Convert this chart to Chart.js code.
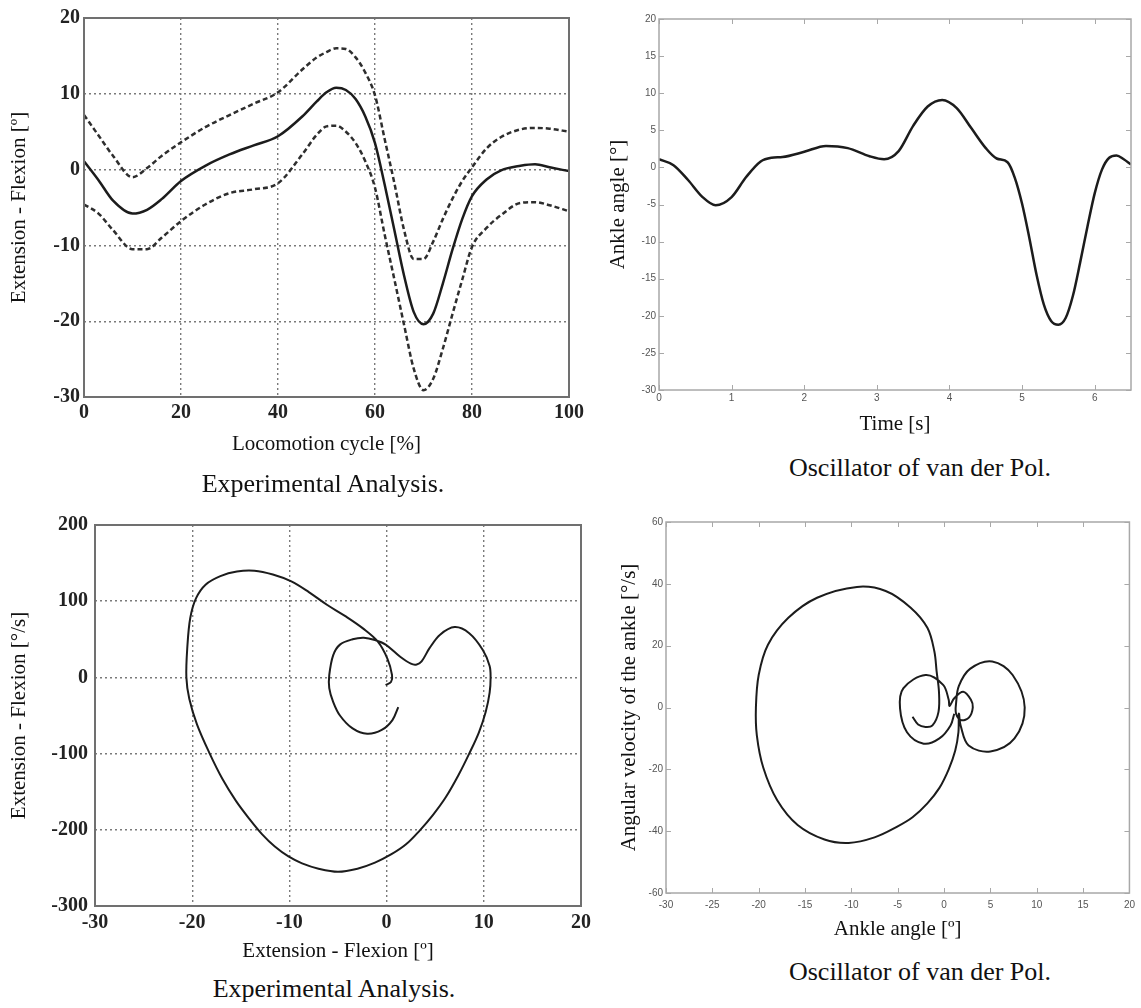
<!DOCTYPE html>
<html>
<head>
<meta charset="utf-8">
<script src="https://cdn.jsdelivr.net/npm/chart.js@4.4.1/dist/chart.umd.min.js"></script>
<style>
body { margin: 0; background: #fff; }
#page { position: relative; width: 1141px; height: 1008px; overflow: hidden; background: #fff; }
canvas { position: absolute; }
.cap { position: absolute; font-family: "Liberation Serif", "Times New Roman", serif; font-size: 26px; line-height: 1; color: #111; white-space: nowrap; transform: translate(-50%, -50%); }
</style>
</head>
<body>
<div id="page">
  <canvas id="c1" width="590" height="457" style="left:0px;top:0px"></canvas>
  <canvas id="c2" width="561" height="437" style="left:580px;top:0px"></canvas>
  <canvas id="c3" width="600" height="474" style="left:0px;top:490px"></canvas>
  <canvas id="c4" width="561" height="452" style="left:580px;top:490px"></canvas>
  <div class="cap" style="left:323px;top:484px">Experimental Analysis.</div>
  <div class="cap" style="left:920px;top:468px">Oscillator of van der Pol.</div>
  <div class="cap" style="left:334px;top:989px">Experimental Analysis.</div>
  <div class="cap" style="left:920px;top:972px">Oscillator of van der Pol.</div>
</div>
<script>
// top left: knee angle over the locomotion cycle (mean and band)
const cycle = [0, 3, 6, 10, 13, 16, 20, 25, 30, 35, 40, 45, 48, 50, 52, 54, 56, 58, 60, 62, 64, 66, 68, 70, 72, 74, 76, 78, 80, 83, 86, 90, 93, 96, 100];
const meanAngle = [1.1, -1.4, -4.1, -5.8, -5.3, -3.9, -1.5, 0.5, 2.0, 3.2, 4.4, 7.0, 9.0, 10.2, 10.8, 10.5, 9.3, 7.0, 3.5, -2.0, -8.0, -14.0, -18.8, -20.4, -19.0, -15.0, -10.5, -6.5, -3.5, -1.3, -0.1, 0.5, 0.7, 0.3, -0.2];
const upperAngle = [7.2, 4.5, 1.8, -1.0, 0.2, 1.8, 3.6, 5.6, 7.2, 8.7, 10.2, 13.2, 14.8, 15.5, 16.0, 15.9, 14.8, 12.8, 9.8, 4.0, -1.8, -8.0, -11.8, -11.8, -9.5, -6.5, -3.8, -1.5, 0.3, 2.8, 4.3, 5.3, 5.5, 5.4, 5.0];
const lowerAngle = [-4.6, -5.8, -8.0, -10.5, -10.5, -9.0, -6.8, -4.6, -3.1, -2.6, -1.8, 2.0, 4.6, 5.7, 5.8, 5.0, 3.5, 1.1, -2.4, -8.6, -14.5, -20.5, -26.3, -29.1, -27.6, -23.6, -19.0, -14.5, -10.2, -7.7, -6.0, -4.4, -4.3, -4.7, -5.5];

// top right: van der Pol ankle angle over time
const time = [0, 0.2, 0.4, 0.6, 0.78, 1.0, 1.2, 1.4, 1.55, 1.7, 2.0, 2.3, 2.6, 2.9, 3.1, 3.3, 3.5, 3.7, 3.9, 4.1, 4.3, 4.5, 4.65, 4.8, 4.9, 5.0, 5.1, 5.2, 5.3, 5.4, 5.5, 5.6, 5.7, 5.8, 5.9, 6.0, 6.1, 6.2, 6.3, 6.4, 6.5];
const ankleAngle = [1.1, 0.3, -1.7, -4.0, -5.1, -4.0, -1.3, 0.8, 1.3, 1.4, 2.1, 2.9, 2.6, 1.5, 1.1, 2.2, 5.6, 8.2, 9.1, 8.0, 5.3, 2.6, 1.2, 0.7, -1.4, -4.9, -9.5, -14.5, -18.5, -20.7, -21.2, -20.3, -17.3, -12.8, -8.0, -3.5, -0.3, 1.3, 1.6, 1.1, 0.4];

// bottom left: experimental phase plane
const expAngle = [1.2, 0.6, -0.5, -2.0, -3.5, -4.8, -5.5, -5.9, -5.9, -5.5, -4.8, -3.5, -2.35, -1.2, -0.1, 1.4, 2.5, 3.1, 3.6, 4.4, 5.5, 7.0, 8.5, 9.9, 10.6, 10.7, 10.6, 10.2, 9.5, 8.5, 7.4, 6.1, 4.8, 3.4, 2.0, 0.5, -1.2, -3.0, -5.0, -7.0, -8.7, -10.1, -11.5, -12.8, -14.1, -15.5, -16.9, -18.2, -19.5, -20.3, -20.6, -20.5, -20.2, -19.6, -18.6, -17.1, -15.4, -13.6, -11.7, -9.8, -8.0, -6.1, -4.2, -2.4, -0.9, 0.07, 0.56, 0.45, -0.1];
const expVelocity = [-39, -56, -69, -74, -67, -50, -32, -14, 3, 29, 43, 50, 52, 49, 43, 27, 18, 17, 21, 38, 56, 66, 58, 36, 15, 0, -20, -45, -72, -100, -128, -157, -180, -201, -219, -232, -243, -251, -255, -251, -244, -235, -222, -206, -186, -162, -133, -100, -62, -28, 0, 40, 78, 104, 122, 133, 139, 140, 135, 126, 112, 95, 80, 64, 47, 25, 3, -6, -10];

// bottom right: van der Pol phase plane
const vdpAngle = [1.1, 0.7, -0.5, -2.2, -4.0, -4.75, -4.4, -2.0, -0.1, 0.5, 0.6, 1.1, 2.07, 2.9, 3.1, 2.7, 1.87, 1.3, 1.3, 1.6, 2.8, 5.2, 7.4, 8.7, 7.6, 5.0, 2.65, 1.8, 1.6, 1.55, 1.2, 0.5, -0.5, -1.8, -3.4, -5.1, -7.5, -10.3, -12.9, -15.8, -18.0, -19.5, -20.2, -20.3, -20.0, -19.0, -16.8, -13.7, -9.4, -6.3, -3.6, -1.8, -1.05, -0.8, -0.55, -0.6, -1.25, -2.0, -2.8, -3.4];
const vdpVelocity = [-2.0, -5.8, -10.0, -11.7, -8.0, -0.3, 6.2, 10.5, 7.3, 2.5, 0.5, 3.0, 5.1, 2.5, 0, -3.2, -4.1, -2.0, 1.5, 7.0, 12.5, 14.9, 10.5, 0, -10, -14.2, -12.3, -6, -2, -8, -14, -20, -26, -31, -35.5, -38.6, -42, -43.8, -42.7, -38, -30, -19.5, -9, 0, 10.5, 20.3, 29, 35.5, 39, 37.7, 32.3, 25.8, 18.2, 11.6, 5.1, -1.4, -5.8, -6.3, -5.5, -3.0];

function pts(xs, ys) {
    return xs.map((x, i) => ({ x: x, y: ys[i] }));
}

// box round the plot area, with optional inward ticks (matlab style)
const frame = {
    id: 'frame',
    afterDatasetsDraw(chart, args, opts) {
        const a = chart.chartArea;
        const ctx = chart.ctx;
        ctx.save();
        ctx.strokeStyle = opts.color;
        ctx.lineWidth = opts.width;
        ctx.strokeRect(a.left, a.top, a.right - a.left, a.bottom - a.top);
        if (opts.tickLen) {
            const len = opts.tickLen;
            ctx.lineWidth = 1;
            ctx.beginPath();
            chart.scales.x.ticks.forEach(t => {
                const px = Math.round(chart.scales.x.getPixelForValue(t.value)) + 0.5;
                ctx.moveTo(px, a.bottom); ctx.lineTo(px, a.bottom - len);
                ctx.moveTo(px, a.top); ctx.lineTo(px, a.top + len);
            });
            chart.scales.y.ticks.forEach(t => {
                const py = Math.round(chart.scales.y.getPixelForValue(t.value)) + 0.5;
                ctx.moveTo(a.left, py); ctx.lineTo(a.left + len, py);
                ctx.moveTo(a.right, py); ctx.lineTo(a.right - len, py);
            });
            ctx.stroke();
        }
        ctx.restore();
    }
};

const serif = '"Liberation Serif", "Times New Roman", serif';
const sans = '"Liberation Sans", Arial, sans-serif';
const boldTicks = { family: serif, size: 20, weight: 'bold' };
const smallTicks = { family: sans, size: 10 };
const titleFont = { family: serif, size: 21 };

function line(points, opts) {
    return Object.assign({
        data: points,
        borderColor: '#1c1c1c',
        borderWidth: 2,
        pointRadius: 0,
        fill: false
    }, opts);
}

function baseOptions(padding, frameOpts) {
    return {
        responsive: false,
        animation: false,
        devicePixelRatio: 1,
        layout: { padding: padding },
        plugins: {
            legend: { display: false },
            tooltip: { enabled: false },
            frame: frameOpts
        }
    };
}

// dotted grid axis (experimental plots)
function gridAxis(min, max, step, size, tickPad, title, titlePad, vertical) {
    return {
        type: 'linear',
        min: min,
        max: max,
        afterFit: s => { if (vertical) s.width = size; else s.height = size; },
        ticks: { stepSize: step, padding: tickPad, font: boldTicks, color: '#222' },
        grid: { color: '#7a7a7a', lineWidth: 1.4, drawTicks: false, borderDash: [2, 3] },
        border: { display: false, dash: [2, 3] },
        title: { display: true, text: title, font: titleFont, color: '#111', padding: titlePad }
    };
}

// plain axis with no grid (simulation plots)
function plainAxis(min, max, step, size, tickPad, title, titlePad, vertical) {
    return {
        type: 'linear',
        min: min,
        max: max,
        afterFit: s => { if (vertical) s.width = size; else s.height = size; },
        afterBuildTicks: s => { s.ticks = s.ticks.filter(t => Math.abs(t.value / step - Math.round(t.value / step)) < 1e-6); },
        ticks: { stepSize: step, padding: tickPad, font: smallTicks, color: '#555' },
        grid: { display: false, drawTicks: false },
        border: { display: false },
        title: { display: true, text: title, font: titleFont, color: '#111', padding: titlePad }
    };
}

const opt1 = baseOptions({ left: 0, top: 18, right: 21, bottom: 0 }, { color: '#707070', width: 2 });
opt1.scales = {
    x: gridAxis(0, 100, 20, 60, 4, 'Locomotion cycle [%]', { top: 0, bottom: 0 }, false),
    y: gridAxis(-30, 20, 10, 84, 4, 'Extension - Flexion [º]', { top: 7, bottom: 0 }, true)
};
new Chart(document.getElementById('c1'), {
    type: 'line',
    data: {
        datasets: [
            line(pts(cycle, upperAngle), { borderColor: '#2e2e2e', borderWidth: 2.5, borderDash: [5, 3], cubicInterpolationMode: 'monotone' }),
            line(pts(cycle, meanAngle), { borderWidth: 2.5, cubicInterpolationMode: 'monotone' }),
            line(pts(cycle, lowerAngle), { borderColor: '#2e2e2e', borderWidth: 2.5, borderDash: [5, 3], cubicInterpolationMode: 'monotone' })
        ]
    },
    options: opt1,
    plugins: [frame]
});

const opt2 = baseOptions({ left: 0, top: 19, right: 10, bottom: 0 }, { color: '#a8a8a8', width: 1.5, tickLen: 5 });
opt2.scales = {
    x: plainAxis(0, 6.5, 1, 47, 2, 'Time [s]', { top: 0, bottom: 0 }, false),
    y: plainAxis(-30, 20, 5, 79, 3, 'Ankle angle [°]', { top: 26, bottom: 0 }, true)
};
new Chart(document.getElementById('c2'), {
    type: 'line',
    data: { datasets: [line(pts(time, ankleAngle), { borderWidth: 2.5, cubicInterpolationMode: 'monotone' })] },
    options: opt2,
    plugins: [frame]
});

const opt3 = baseOptions({ left: 0, top: 35, right: 19, bottom: 0 }, { color: '#707070', width: 2 });
opt3.scales = {
    x: gridAxis(-30, 20, 10, 58, 5, 'Extension - Flexion [º]', { top: 0, bottom: 0 }, false),
    y: gridAxis(-300, 200, 100, 95, 7, 'Extension - Flexion [°/s]', { top: 7, bottom: 0 }, true)
};
new Chart(document.getElementById('c3'), {
    type: 'line',
    data: { datasets: [line(pts(expAngle, expVelocity), { tension: 0.35 })] },
    options: opt3,
    plugins: [frame]
});

const opt4 = baseOptions({ left: 0, top: 32, right: 8, bottom: 0 }, { color: '#a8a8a8', width: 1.5, tickLen: 5 });
opt4.scales = {
    x: plainAxis(-30, 20, 5, 49, 6, 'Ankle angle [º]', { top: 0, bottom: 0 }, false),
    y: plainAxis(-60, 60, 20, 86, 3, 'Angular velocity of the ankle [°/s]', { top: 37, bottom: 0 }, true)
};
new Chart(document.getElementById('c4'), {
    type: 'line',
    data: { datasets: [line(pts(vdpAngle, vdpVelocity), { tension: 0.35 })] },
    options: opt4,
    plugins: [frame]
});
</script>
</body>
</html>
